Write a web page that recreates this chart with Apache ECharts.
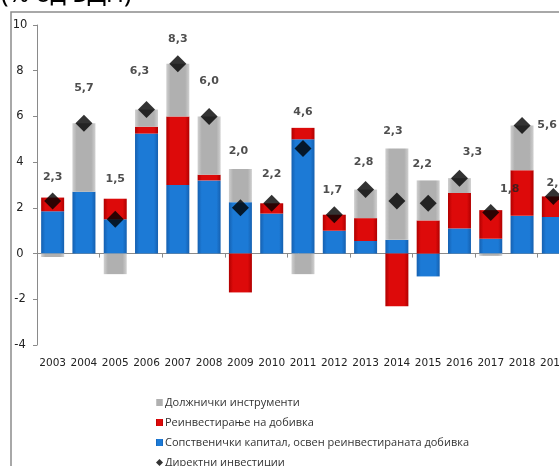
<!DOCTYPE html>
<html>
<head>
<meta charset="utf-8">
<script src="https://cdn.jsdelivr.net/npm/echarts@6/dist/echarts.min.js"></script>
<style>
  html, body { margin: 0; padding: 0; background: #fff; }
  #chart { width: 559px; height: 466px; }
</style>
</head>
<body>
<div id="chart"></div>
<script>
// Директни инвестиции по компоненти, % од БДП
const years = ['2003','2004','2005','2006','2007','2008','2009','2010','2011','2012','2013','2014','2015','2016','2017','2018','2019'];
const equity     = [1.85, 2.7, 1.5, 5.25, 3.0, 3.2, 2.25, 1.75, 5.0, 1.0, 0.55, 0.6, -1.0, 1.1, 0.65, 1.65, 1.6];
const reinvested = [0.6, 0, 0.9, 0.3, 3.0, 0.25, -1.7, 0.45, 0.5, 0.7, 1.0, -2.3, 1.45, 1.55, 1.25, 2.0, 0.9];
const debt       = [-0.15, 3.0, -0.9, 0.75, 2.3, 2.55, 1.45, 0, -0.9, 0, 1.25, 4.0, 1.75, 0.65, -0.1, 1.95, 0];
const total      = [2.3, 5.7, 1.5, 6.3, 8.3, 6.0, 2.0, 2.2, 4.6, 1.7, 2.8, 2.3, 2.2, 3.3, 1.8, 5.6, 2.5];
const yTicks     = [-4, -2, 0, 2, 4, 6, 8, 10];

const seriesNames = {
  debt: 'Должнички инструменти',
  reinvested: 'Реинвестирање на добивка',
  equity: 'Сопственички капитал, освен реинвестираната добивка',
  total: 'Директни инвестиции'
};

// pixel nudges for the value labels above each column [dx, gap above column top]
const labelNudge = [[0,20],[0,35],[0,20],[-7,38],[0,25],[0,35],[-2,18],[0,29],[0,16],[-2,25],[-2,27],[-4,17],[-6,16],[13,26],[19,21],[25,0],[3,13]];

// top of the positive part of each column, used to anchor its value label
const posTop = years.map((_, i) =>
  [equity[i], reinvested[i], debt[i]].reduce((s, v) => s + (v > 0 ? v : 0), 0));

function bevel(edge, mid) {
  return {
    type: 'linear', x: 0, y: 0, x2: 1, y2: 0,
    colorStops: [
      { offset: 0, color: edge }, { offset: 0.18, color: mid },
      { offset: 0.82, color: mid }, { offset: 1, color: edge }
    ]
  };
}

const blueFill = bevel('#1560b0', '#1c7ad6');
const redFill  = bevel('#b00000', '#dd0a0a');
const grayFill = bevel('#d0d0d0', '#b0b0b0');

const barCommon = {
  type: 'bar', stack: 'fdi', barWidth: 23,
  xAxisIndex: 0, yAxisIndex: 0
};

// one legend row per entry, stacked vertically below the axis
const legendOrder = [
  { name: seriesNames.debt, icon: 'rect' },
  { name: seriesNames.reinvested, icon: 'rect' },
  { name: seriesNames.equity, icon: 'rect' },
  { name: seriesNames.total, icon: 'diamond' }
];
const legends = legendOrder.map((item, k) => ({
  orient: 'horizontal', left: 156, top: 397 + k * 20, padding: 0,
  itemWidth: 7, itemHeight: 7, selectedMode: false,
  textStyle: { fontFamily: 'Open Sans', fontSize: 11, color: '#333', padding: [0, 0, 0, -3] },
  data: [item]
}));

const chart = echarts.init(document.getElementById('chart'), null, { renderer: 'canvas' });

chart.setOption({
  animation: false,
  backgroundColor: '#ffffff',
  textStyle: { fontFamily: 'DejaVu Sans' },
  graphic: [
    {
      type: 'text', left: 1, top: -18, silent: true,
      style: { text: '(% од БДП)', font: '25px "Noto Sans"', fill: '#000' }
    },
    {
      type: 'rect', silent: true, z: -1,
      shape: { x: 11, y: 12, width: 700, height: 600 },
      style: { fill: 'none', stroke: '#8c8c8c', lineWidth: 1.5 }
    }
  ],
  grid: { left: 37, top: 25, width: 532, bottom: 121, containLabel: false, outerBoundsMode: 'none' },
  legend: legends,
  xAxis: [
    {
      type: 'category', data: years, position: 'bottom',
      axisLine: { onZero: true, lineStyle: { color: '#8a8a8a', width: 1 } },
      axisTick: { show: true, length: 4, lineStyle: { color: '#8a8a8a' } },
      axisLabel: { show: false }
    },
    {
      type: 'category', data: years, position: 'bottom',
      axisLine: { show: false }, axisTick: { show: false },
      axisLabel: { interval: 0, color: '#222', fontSize: 10.5, fontFamily: 'DejaVu Sans', margin: 13 }
    }
  ],
  yAxis: {
    type: 'value', min: yTicks[0], max: yTicks[yTicks.length - 1], interval: 2,
    splitLine: { show: false },
    axisLine: { show: true, lineStyle: { color: '#8a8a8a', width: 1 } },
    axisTick: { show: true, length: 4, lineStyle: { color: '#8a8a8a' } },
    axisLabel: { color: '#222', fontSize: 11.5, fontFamily: 'DejaVu Sans', margin: 17, align: 'center' }
  },
  series: [
    Object.assign({}, barCommon, {
      name: seriesNames.equity, data: equity,
      itemStyle: { color: blueFill }
    }),
    Object.assign({}, barCommon, {
      name: seriesNames.reinvested, data: reinvested,
      itemStyle: { color: redFill }
    }),
    Object.assign({}, barCommon, {
      name: seriesNames.debt, data: debt,
      itemStyle: { color: grayFill }
    }),
    {
      name: seriesNames.total, type: 'scatter', data: total,
      symbol: 'diamond', symbolSize: 17, z: 5,
      itemStyle: { color: '#000' }
    },
    {
      name: 'labels', type: 'scatter', symbolSize: 0, z: 6, silent: true,
      data: posTop.map((v, i) => ({
        value: v,
        label: {
          show: true, position: 'inside',
          offset: [labelNudge[i][0], -labelNudge[i][1]],
          formatter: () => total[i].toFixed(1).replace('.', ','),
          fontFamily: 'DejaVu Sans', fontWeight: 'bold', fontSize: 11, color: '#222'
        }
      }))
    }
  ]
});
</script>
</body>
</html>
